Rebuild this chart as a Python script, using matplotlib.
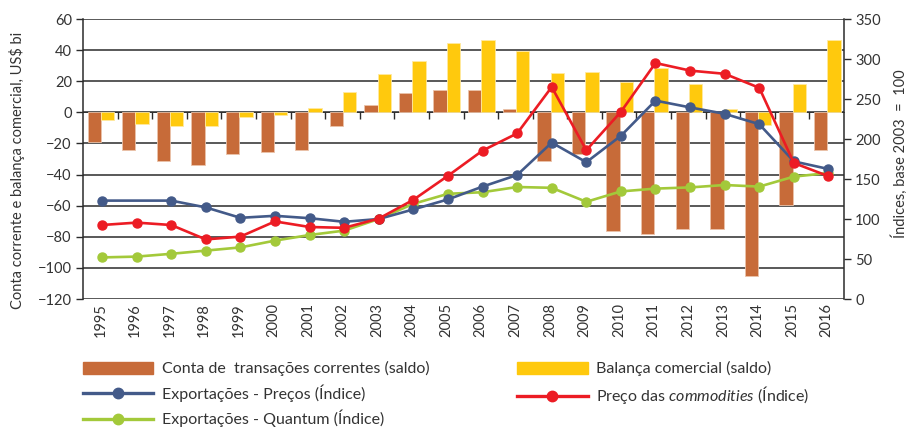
import numpy as np
import matplotlib
matplotlib.use("Agg")
import matplotlib.pyplot as plt
from matplotlib.patches import Patch
from matplotlib.lines import Line2D

plt.rcParams['font.family'] = ['Lato', 'DejaVu Sans']
plt.rcParams['mathtext.fontset'] = 'custom'
plt.rcParams['mathtext.it'] = 'Lato:italic'
plt.rcParams['mathtext.rm'] = 'Lato'

years = [str(y) for y in range(1995, 2017)]

# US$ bi (left axis)
conta_corrente = [-19, -24.5, -31.5, -34, -26.5, -25.5, -24.5, -9, 5, 12.5, 14.5,
                  14.5, 2, -31, -26.5, -76, -78, -75, -75, -105, -59.5, -24]
balanca = [-5, -7.5, -8.5, -8.5, -3, -2, 2.7, 13, 24.8, 33, 44.5,
           46.5, 39.5, 25, 26, 19.8, 28.5, 18.5, 2.2, -8, 18.5, 46.5]

# indices, base 2003 = 100 (right axis)
exp_precos = [123, np.nan, 123, 114.5, 101.5, 104, 101, 96.5, 100, 112, 124.5,
              140.5, 155, 195.5, 171, 204, 248, 239.5, 231.5, 218.5, 172, 162.5]
commodities = [92.5, 95.5, 92.5, 74.5, 78, 97, 90, 89, 100.5, 124, 154,
               185.5, 207, 265, 186, 234, 295, 285.5, 281.5, 264, 170, 153.5]
exp_quantum = [52, 53, 56.5, 60.5, 64.5, 73, 80, 85.5, 100, 119, 131.5,
               133.5, 140, 139, 121.5, 134.5, 138, 139.5, 142.5, 140.5, 153, 157.5]

brown = '#C76B39'
yellow = '#FFC90D'
blue = '#435A89'
red = '#EC1C24'
green = '#A3C93A'
grid_c = '#2b2b2b'
txt_c = '#333333'

fig = plt.figure(figsize=(9.10, 4.29), dpi=100)
ax = fig.add_axes([0.0912, 0.303, 0.8363, 0.6527])

x = np.arange(len(years))
w = 0.385
ax.bar(x - 0.175, conta_corrente, w, color=brown, edgecolor='#EBC3AA', linewidth=0.6, zorder=2)
ax.bar(x + 0.21, balanca, w, color=yellow, edgecolor='#FFE9A0', linewidth=0.6, zorder=2)

ax.set_xlim(-0.5, len(years) - 0.5)
ax.set_ylim(-120, 60)
ax.set_yticks(range(-120, 61, 20))
ax.yaxis.grid(True, color=grid_c, linewidth=1.1, zorder=0)
ax.set_axisbelow(True)
ax.tick_params(axis='y', direction='out', length=5, width=1, color=grid_c,
               labelsize=10.5, labelcolor=txt_c, pad=3)
ax.set_xticks(x)
ax.set_xticklabels(years, rotation=90, fontsize=10.5, color=txt_c)
ax.tick_params(axis='x', length=0, pad=3)
for s in ['top', 'bottom']:
    ax.spines[s].set_visible(False)
for s in ['left', 'right']:
    ax.spines[s].set_color(grid_c)
    ax.spines[s].set_linewidth(1.1)
ax.set_ylabel('Conta corrente e balança comercial, US$ bi', fontsize=10.5, color=txt_c)
ax.yaxis.set_label_coords(-0.076, 0.46)

# ticks along the zero line between categories
sec = ax.secondary_xaxis(120 / 180)
sec.set_alignment('bottom')
sec.set_xticks(np.arange(0.5, len(years) - 1, 1.0))
sec.set_xticklabels([])
sec.tick_params(direction='out', length=5, width=1, color=grid_c,
                labelbottom=False, labeltop=False)
for s in sec.spines.values():
    s.set_color(grid_c)
    s.set_linewidth(0.6)

ax2 = ax.twinx()
ax2.set_ylim(0, 350)
ax2.set_yticks(range(0, 351, 50))
ax2.tick_params(axis='y', direction='out', length=5, width=1, color=grid_c,
                labelsize=10.5, labelcolor=txt_c, pad=3)
for s in ax2.spines.values():
    s.set_visible(False)
ax2.set_ylabel('Índices, base 2003  =  100', fontsize=10.5, color=txt_c)
ax2.yaxis.set_label_coords(1.062, 0.52)

xl = x + 0.05
ep = np.array(exp_precos, dtype=float)
m = ~np.isnan(ep)
ax2.plot(xl[m], ep[m], color=blue, lw=1.9, marker='o', ms=6.5, zorder=3)
ax2.plot(xl, commodities, color=red, lw=1.9, marker='o', ms=6.5, zorder=4)
ax2.plot(xl, exp_quantum, color=green, lw=1.9, marker='o', ms=6.5, zorder=2)

handles = [
    Patch(facecolor=brown, edgecolor=brown),
    Line2D([], [], color=blue, lw=2.4, marker='o', ms=7.5),
    Line2D([], [], color=green, lw=2.4, marker='o', ms=7.5),
    Patch(facecolor=yellow, edgecolor=yellow),
    Line2D([], [], color=red, lw=2.4, marker='o', ms=7.5),
]
labels = [
    'Conta de  transações correntes (saldo)',
    'Exportações - Preços (Índice)',
    'Exportações - Quantum (Índice)',
    'Balança comercial (saldo)',
    r'Preço das $\mathit{commodities}$ (Índice)',
]
fig.legend(handles, labels, loc='upper left', bbox_to_anchor=(0.091, 0.158),
           ncol=2, frameon=False, fontsize=11.5, handlelength=4.4, handleheight=0.75,
           handletextpad=0.55, columnspacing=5.5, labelspacing=0.5,
           borderaxespad=0, borderpad=0, labelcolor=txt_c)

fig.savefig('out.png', dpi=100)
